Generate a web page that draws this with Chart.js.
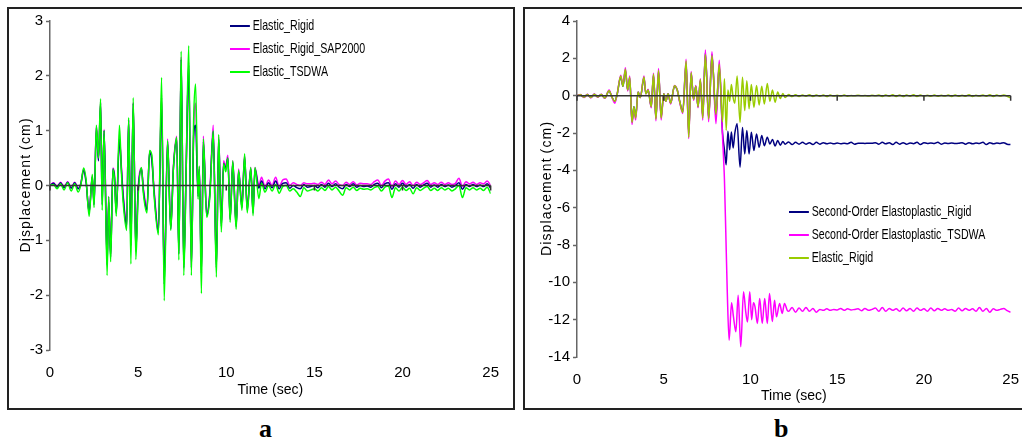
<!DOCTYPE html>
<html>
<head>
<meta charset="utf-8">
<script src="https://cdn.jsdelivr.net/npm/chart.js@4.4.1/dist/chart.umd.min.js"></script>
<style>
  html, body { margin: 0; padding: 0; background: #fff; }
  body { width: 1022px; height: 441px; overflow: hidden; position: relative; }
  .box { position: absolute; border: 2px solid #222; }
  #boxA { left: 7px; top: 7px; width: 504px; height: 399px; }
  #boxB { left: 523px; top: 7px; width: 508px; height: 399px; }
  .legend { position: absolute; font-family: 'Liberation Sans', Arial, sans-serif; font-size: 15px; color: #000; }
  .legend div { height: 23px; line-height: 23px; white-space: nowrap; transform: scaleX(0.71); transform-origin: left center; }
  .legend span { display: inline-block; width: 28px; height: 2px; vertical-align: middle; margin-right: 4px; }
  .panel { position: absolute; top: 414px; font-family: 'Liberation Serif', 'Times New Roman', serif; font-weight: bold; font-size: 26px; }
</style>
</head>
<body>
<div class="box" id="boxA"><canvas id="chartA"></canvas></div>
<div class="box" id="boxB"><canvas id="chartB"></canvas></div>
<div class="legend" style="left:230px; top:13px;">
  <div><span style="background:#000080"></span>Elastic_Rigid</div>
  <div><span style="background:#ff00ff"></span>Elastic_Rigid_SAP2000</div>
  <div><span style="background:#00ff00"></span>Elastic_TSDWA</div>
</div>
<div class="legend" style="left:789px; top:199px;">
  <div><span style="background:#000080"></span>Second-Order Elastoplastic_Rigid</div>
  <div><span style="background:#ff00ff"></span>Second-Order Elastoplastic_TSDWA</div>
  <div><span style="background:#99cc00"></span>Elastic_Rigid</div>
</div>
<div class="panel" style="left:259px;">a</div>
<div class="panel" style="left:774px;">b</div>
<script>
// ---- shared tail sampling times (sec) ----
const timeTail = [
  12.2, 12.4, 12.6, 12.8, 13.0,
  13.2, 13.4, 13.6, 13.8, 14.0,
  14.2, 14.4, 14.6, 14.8, 15.0,
  15.2, 15.4, 15.6, 15.8, 16.0,
  16.2, 16.4, 16.6, 16.8, 17.0,
  17.2, 17.4, 17.6, 17.8, 18.0,
  18.2, 18.4, 18.6, 18.8, 19.0,
  19.2, 19.4, 19.6, 19.8, 20.0,
  20.2, 20.4, 20.6, 20.8, 21.0,
  21.2, 21.4, 21.6, 21.8, 22.0,
  22.2, 22.4, 22.6, 22.8, 23.0,
  23.2, 23.4, 23.6, 23.8, 24.0,
  24.2, 24.4, 24.6, 24.8, 25.0
];

// ---- panel a ----
const timeA = [
  0.0, 0.2, 0.4, 0.6, 0.8, 1.0, 1.2, 1.4, 1.6, 1.75,
  1.91, 2.05, 2.22, 2.4, 2.5, 2.63, 2.75, 2.87, 2.96, 3.07,
  3.24, 3.33, 3.44, 3.57, 3.66, 3.76, 3.94, 4.05, 4.15, 4.35,
  4.46, 4.59, 4.72, 4.87, 5.0, 5.19, 5.3, 5.5, 5.65, 5.78,
  5.9, 6.15, 6.33, 6.48, 6.67, 6.85, 7.0, 7.19, 7.31, 7.44,
  7.59, 7.72, 7.87, 8.02, 8.15, 8.26, 8.4, 8.47, 8.59, 8.7,
  8.89, 9.07, 9.26, 9.44, 9.57, 9.72, 9.85, 9.97, 10.09, 10.22,
  10.37, 10.56, 10.7, 10.89, 11.04, 11.19, 11.39, 11.52, 11.63, 11.85,
  12.0
];
const elasticRigidA = [
  0, 0.04, -0.03, 0.05, -0.04, 0.06, -0.05, 0.05, -0.06, 0.03,
  0.28, 0.05, -0.48, 0.15, -0.35, 1.05, 0.45, 1.5, -0.35, 1.0,
  -1.45, -0.3, -1.3, 0.3, 0.15, -0.5, 0.85, 0.3, -0.2, -0.75,
  1.2, -1.1, 1.5, -1.2, -0.1, 0.3, -0.1, -0.45, 0.6, 0.45,
  -0.1, -0.85, 1.6, -1.8, 0.8, -0.8, 0.3, 0.85, -1.25, 2.3,
  -1.5, 0.2, 2.2, -1.5, 0.9, 1.1, -0.2, 0.3, -1.6, 0.8,
  -0.55, -0.15, 0.98, -1.5, 0.85, -0.75, 0.4, 0.3, 0.5, -0.62,
  0.42, -0.75, 0.25, -0.4, 0.52, -0.45, 0.3, -0.5, 0.3, -0.05,
  0.08
];
const elasticRigidATail = [
  -0.06, 0.05, -0.04, 0.08, -0.06,
  0.04, 0.05, -0.05, 0.0, -0.04,
  -0.06, 0.02, -0.03, -0.02, 0.0,
  -0.04, 0.02, -0.03, 0.04, -0.02,
  0.03, -0.03, -0.06, 0.02, -0.02,
  0.03, -0.03, 0.0, -0.02, -0.01,
  -0.03, 0.02, 0.04, -0.04, 0.03,
  0.05, -0.07, 0.03, -0.03, 0.04,
  -0.03, 0.02, -0.05, 0.02, -0.03,
  0.01, 0.04, -0.03, 0.01, -0.03,
  0.02, -0.02, 0.01, -0.03, 0.0,
  0.05, -0.07, 0.02, -0.02, 0.02,
  -0.02, 0.01, -0.02, 0.03, -0.05
];
const sap2000A = [
  0, 0.05, -0.02, 0.06, -0.03, 0.07, -0.04, 0.06, -0.05, 0.04,
  0.3, 0.08, -0.5, 0.18, -0.33, 1.08, 0.5, 1.52, -0.2, 1.02,
  -1.35, -0.2, -1.25, 0.32, 0.2, -0.48, 0.88, 0.35, -0.15, -0.7,
  1.2, -1.05, 1.52, -1.15, -0.05, 0.32, -0.05, -0.4, 0.62, 0.5,
  -0.05, -0.8, 1.65, -1.7, 0.85, -0.75, 0.35, 0.9, -1.2, 2.35,
  -1.45, 0.3, 2.25, -1.45, 1.0, 1.5, -0.15, 0.35, -1.55, 0.9,
  -0.5, -0.1, 1.1, -1.45, 0.9, -0.7, 0.45, 0.35, 0.55, -0.6,
  0.45, -0.7, 0.3, -0.35, 0.55, -0.4, 0.33, -0.45, 0.33, 0.0,
  0.15
];
const sap2000ATail = [
  -0.02, 0.1, 0.0, 0.15, -0.02,
  0.1, 0.12, 0.0, 0.05, 0.02,
  0.0, 0.05, 0.03, 0.03, 0.04,
  0.02, 0.06, 0.02, 0.1, 0.03,
  0.08, 0.02, 0.0, 0.06, 0.02,
  0.07, 0.01, 0.04, 0.03, 0.03,
  0.02, 0.07, 0.1, 0.0, 0.08,
  0.12, -0.02, 0.08, 0.02, 0.09,
  0.02, 0.07, 0.0, 0.06, 0.02,
  0.05, 0.09, 0.02, 0.05, 0.02,
  0.06, 0.02, 0.05, 0.02, 0.04,
  0.13, -0.02, 0.07, 0.03, 0.06,
  0.02, 0.05, 0.03, 0.08, 0.0
];
const tsdwaA = [
  0, 0.02, -0.06, 0.03, -0.08, 0.05, -0.1, 0.03, -0.12, 0.01,
  0.32, 0.1, -0.56, 0.2, -0.4, 1.1, 0.5, 1.58, -0.45, 1.0,
  -1.64, -0.2, -1.39, 0.3, 0.1, -0.56, 1.1, 0.25, -0.3, -0.82,
  1.24, -1.43, 1.6, -1.35, -0.2, 0.33, -0.15, -0.5, 0.64, 0.55,
  -0.15, -0.9, 1.97, -2.1, 0.82, -0.82, 0.3, 0.88, -1.36, 2.45,
  -1.64, 0.2, 2.55, -1.64, 1.2, 1.85, -0.25, 0.35, -1.97, 0.85,
  -0.58, -0.2, 1.0, -1.67, 0.93, -0.85, 0.4, 0.25, 0.5, -0.67,
  0.45, -0.8, 0.28, -0.45, 0.58, -0.5, 0.33, -0.55, 0.33, -0.24,
  0.04
];
const tsdwaATail = [
  -0.12, 0.0, -0.1, 0.02, -0.14,
  -0.02, 0.0, -0.1, -0.06, -0.12,
  -0.2, -0.04, -0.1, -0.08, -0.06,
  -0.1, -0.04, -0.09, -0.02, -0.08,
  -0.03, -0.1, -0.18, -0.04, -0.08,
  -0.03, -0.09, -0.05, -0.07, -0.06,
  -0.08, -0.04, -0.02, -0.1, -0.03,
  -0.01, -0.22, -0.04, -0.1, -0.03,
  -0.09, -0.05, -0.15, -0.04, -0.09,
  -0.05, -0.02, -0.09, -0.05, -0.09,
  -0.04, -0.08, -0.05, -0.1, -0.06,
  0.0, -0.22, -0.04, -0.08, -0.04,
  -0.08, -0.05, -0.09, -0.03, -0.15
];

// ---- panel b ----
const timeBEarly = [
  0.0, 0.2, 0.4, 0.6, 0.8, 1.0, 1.2, 1.4, 1.6, 1.85,
  2.0, 2.18, 2.32, 2.52, 2.65, 2.79, 2.92, 3.04, 3.17, 3.28,
  3.38, 3.52, 3.65, 3.86, 3.97, 4.1, 4.28, 4.41, 4.55, 4.7,
  4.85, 5.0, 5.12, 5.25, 5.4, 5.62, 5.78, 5.92, 6.1, 6.29,
  6.44, 6.58, 6.72, 6.85, 6.98, 7.11, 7.25, 7.4, 7.59, 7.78,
  8.01, 8.2, 8.39
];
const timeBRigidLate = [
  8.5, 8.6, 8.7, 8.8, 8.9, 9.0, 9.1, 9.23, 9.4, 9.54,
  9.67, 9.79, 9.92, 10.05, 10.2, 10.35, 10.5, 10.65, 10.8, 10.97,
  11.12, 11.27, 11.42, 11.57, 11.72, 11.87, 12.0
];
const timeBTsdwaLate = [
  8.5, 8.58, 8.66, 8.77, 8.91, 9.02, 9.16, 9.29, 9.44, 9.6,
  9.73, 9.83, 9.96, 10.07, 10.17, 10.26, 10.4, 10.53, 10.68, 10.82,
  10.97, 11.1, 11.26, 11.39, 11.5, 11.68, 11.83, 11.96, 12.12
];

const elasticRigidB = [
  0, 0.05, -0.08, 0.06, -0.1, 0.08, -0.07, 0.06, -0.12, 0.26,
  -0.05, -0.3, 0.1, 1.06, 0.5, 1.42, 0.3, 0.98, -1.43, -0.6,
  -1.2, 0.2, -0.1, 1.0, 0.1, 0.3, -0.6, 1.15, -1.26, 1.35,
  -1.2, 0.1, -0.3, 0.1, -0.4, 0.53, 0.3, -0.3, -0.9, 1.86,
  -2.23, 1.24, -0.2, 0.5, -0.6, 0.86, -1.2, 2.2, -1.25, 2.15,
  -1.0, 1.7, -1.4
];
const elasticRigidBLate = [
  0.9, -1.85, 0.3, -0.3, 0.6, -0.1, -0.4, 1.06, -1.43, 0.98,
  -0.8, 0.8, -0.7, 0.6, -0.63, 0.55, -0.5, 0.5, -0.45, 0.65,
  -0.3, 0.3, -0.35, 0.2, -0.15, 0.12, -0.1
];
const elasticRigidBTail = [
  0.06, -0.05, 0.05, -0.04, 0.04,
  -0.03, 0.05, -0.04, 0.03, -0.03,
  0.04, -0.05, 0.03, -0.02, 0.02,
  -0.02, 0.03, -0.03, 0.01, -0.01,
  0.02, -0.01, 0.01, -0.02, 0.02,
  -0.01, 0.03, -0.04, 0.04, -0.03,
  0.05, -0.04, 0.04, -0.05, 0.03,
  -0.03, 0.05, -0.04, 0.03, -0.02,
  0.02, -0.03, 0.04, -0.03, 0.02,
  -0.02, 0.03, -0.04, 0.04, -0.03,
  0.02, -0.03, 0.05, -0.04, 0.02,
  -0.02, 0.04, -0.03, 0.05, -0.04,
  0.03, -0.02, 0.04, -0.03, -0.12
];

const plasticRigidB = [
  0, 0.05, -0.08, 0.06, -0.1, 0.08, -0.07, 0.06, -0.12, 0.26,
  -0.05, -0.3, 0.1, 1.0, 0.5, 1.35, 0.3, 0.95, -1.4, -0.6,
  -1.15, 0.2, -0.1, 0.95, 0.1, 0.3, -0.6, 1.1, -1.2, 1.3,
  -1.15, 0.1, -0.3, 0.1, -0.4, 0.5, 0.3, -0.3, -0.85, 1.75,
  -2.0, 1.2, -0.2, 0.5, -0.6, 0.8, -1.1, 2.3, -1.2, 2.2,
  -1.1, 1.6, -2.0
];
const plasticRigidBLate = [
  -2.9, -3.7, -1.9, -2.9, -1.95, -2.8, -2.0, -1.5, -3.83, -1.7,
  -3.12, -1.87, -3.12, -1.96, -2.94, -2.05, -2.77, -2.14, -2.68, -2.23,
  -2.59, -2.35, -2.7, -2.4, -2.65, -2.45, -2.6
];
const plasticRigidBTail = [
  -2.48, -2.62, -2.5, -2.6, -2.5,
  -2.6, -2.52, -2.62, -2.5, -2.6,
  -2.52, -2.58, -2.53, -2.58, -2.54,
  -2.57, -2.55, -2.57, -2.5, -2.6,
  -2.55, -2.55, -2.56, -2.55, -2.55,
  -2.52, -2.6, -2.5, -2.58, -2.52,
  -2.62, -2.5, -2.6, -2.52, -2.6,
  -2.53, -2.57, -2.5, -2.62, -2.52,
  -2.56, -2.54, -2.56, -2.5, -2.6,
  -2.53, -2.56, -2.54, -2.56, -2.55,
  -2.52, -2.6, -2.52, -2.58, -2.54,
  -2.56, -2.5, -2.62, -2.52, -2.58,
  -2.54, -2.56, -2.52, -2.6, -2.62
];

const plasticTsdwaB = [
  0, 0.06, -0.1, 0.07, -0.12, 0.09, -0.08, 0.07, -0.14, 0.3,
  -0.05, -0.4, 0.1, 1.1, 0.55, 1.5, 0.25, 1.05, -1.55, -0.65,
  -1.3, 0.2, -0.1, 1.05, 0.1, 0.35, -0.65, 1.2, -1.35, 1.45,
  -1.3, 0.1, -0.3, 0.1, -0.45, 0.55, 0.3, -0.35, -0.95, 1.95,
  -2.3, 1.3, -0.25, 0.55, -0.65, 0.9, -1.3, 2.45, -1.4, 2.35,
  -1.5, 1.9, -2.2
];
const plasticTsdwaBLate = [
  -4.5, -7.4, -10.4, -13.1, -11.1, -11.85, -12.65, -10.69, -13.45, -10.5,
  -11.6, -12.12, -10.5, -12.0, -11.1, -11.3, -12.2, -10.87, -12.2, -10.87,
  -12.2, -10.6, -12.1, -10.96, -11.85, -11.13, -11.67, -11.13, -11.5
];
const plasticTsdwaBTail = [
  -11.55, -11.35, -11.6, -11.38, -11.55,
  -11.35, -11.55, -11.4, -11.6, -11.45,
  -11.5, -11.42, -11.5, -11.45, -11.48,
  -11.4, -11.5, -11.42, -11.48, -11.45,
  -11.42, -11.52, -11.4, -11.5, -11.45,
  -11.38, -11.55, -11.35, -11.55, -11.4,
  -11.5, -11.42, -11.55, -11.38, -11.52,
  -11.4, -11.55, -11.38, -11.5, -11.42,
  -11.55, -11.38, -11.52, -11.4, -11.5,
  -11.42, -11.5, -11.45, -11.55, -11.38,
  -11.52, -11.4, -11.5, -11.42, -11.55,
  -11.35, -11.55, -11.4, -11.6, -11.42,
  -11.5, -11.45, -11.4, -11.52, -11.6
];

const axisFont = { family: "'Liberation Sans', Arial, sans-serif", size: 15 };
const titleFont = { family: "'Liberation Sans', Arial, sans-serif", size: 14 };
// hair spaces give the spread-out look of the original axis title
const yTitle = 'D\u200Ai\u200As\u200Ap\u200Al\u200Aa\u200Ac\u200Ae\u200Am\u200Ae\u200An\u200At \u200A(\u200Ac\u200Am\u200A)';

function points(times, values) {
  return times.map((t, i) => ({ x: t, y: values[i] }));
}

function line(label, color, data) {
  return {
    label: label,
    data: data,
    borderColor: color,
    backgroundColor: color,
    borderWidth: 1.5,
    pointRadius: 0,
    cubicInterpolationMode: 'monotone',
    fill: false
  };
}

// x axis crosses at zero, with small ticks hanging below
const zeroAxis = {
  id: 'zeroAxis',
  afterDatasetsDraw(chart) {
    const { ctx, chartArea, scales } = chart;
    const y0 = scales.y.getPixelForValue(0);
    ctx.save();
    ctx.strokeStyle = '#333';
    ctx.lineWidth = 1.5;
    ctx.beginPath();
    ctx.moveTo(chartArea.left, y0);
    ctx.lineTo(chartArea.right, y0);
    scales.x.ticks.forEach(t => {
      const px = scales.x.getPixelForValue(t.value);
      ctx.moveTo(px, y0);
      ctx.lineTo(px, y0 + 5);
    });
    ctx.stroke();
    ctx.restore();
  }
};

function makeOptions(cfg) {
  return {
    responsive: true,
    maintainAspectRatio: false,
    animation: false,
    layout: { padding: { top: 11, right: cfg.padRight, left: 0, bottom: 0 } },
    plugins: { legend: { display: false }, tooltip: { enabled: false } },
    scales: {
      x: {
        type: 'linear',
        min: 0,
        max: 25,
        ticks: { stepSize: 5, color: '#000', font: axisFont, padding: 14, maxRotation: 0 },
        grid: { display: false, drawTicks: false },
        border: { display: false },
        title: { display: true, text: 'Time (sec)', color: '#000', font: titleFont, padding: { top: 0, bottom: cfg.xTitlePad } },
        afterFit(s) { s.height = cfg.xHeight; }
      },
      y: {
        min: cfg.yMin,
        max: cfg.yMax,
        ticks: { stepSize: cfg.yStep, color: '#000', font: axisFont, padding: 3 },
        grid: { drawOnChartArea: false, tickLength: 4, tickColor: '#666', tickWidth: 1.5 },
        border: { color: '#666', width: 1.5 },
        title: { display: true, text: yTitle, color: '#000', font: titleFont, padding: { top: cfg.yTitlePad, bottom: 0 } },
        afterFit(s) { s.width = cfg.yWidth; }
      }
    }
  };
}

new Chart(document.getElementById('chartA'), {
  type: 'line',
  data: {
    datasets: [
      line('Elastic_TSDWA', '#00ff00', points(timeA.concat(timeTail), tsdwaA.concat(tsdwaATail))),
      line('Elastic_Rigid', '#000080', points(timeA.concat(timeTail), elasticRigidA.concat(elasticRigidATail))),
      line('Elastic_Rigid_SAP2000', '#ff00ff', points(timeA.concat(timeTail), sap2000A.concat(sap2000ATail)))
    ]
  },
  options: makeOptions({ yMin: -3, yMax: 3, yStep: 1, yWidth: 41, xHeight: 58, padRight: 13, xTitlePad: 9, yTitlePad: 9 }),
  plugins: [zeroAxis]
});

new Chart(document.getElementById('chartB'), {
  type: 'line',
  data: {
    datasets: [
      line('Elastic_Rigid', '#99cc00', points(timeBEarly.concat(timeBRigidLate, timeTail), elasticRigidB.concat(elasticRigidBLate, elasticRigidBTail))),
      line('Second-Order Elastoplastic_TSDWA', '#ff00ff', points(timeBEarly.concat(timeBTsdwaLate, timeTail), plasticTsdwaB.concat(plasticTsdwaBLate, plasticTsdwaBTail))),
      line('Second-Order Elastoplastic_Rigid', '#000080', points(timeBEarly.concat(timeBRigidLate, timeTail), plasticRigidB.concat(plasticRigidBLate, plasticRigidBTail)))
    ]
  },
  options: makeOptions({ yMin: -14, yMax: 4, yStep: 2, yWidth: 52, xHeight: 51, padRight: 20, xTitlePad: 3, yTitlePad: 14 }),
  plugins: [zeroAxis]
});
</script>
</body>
</html>
